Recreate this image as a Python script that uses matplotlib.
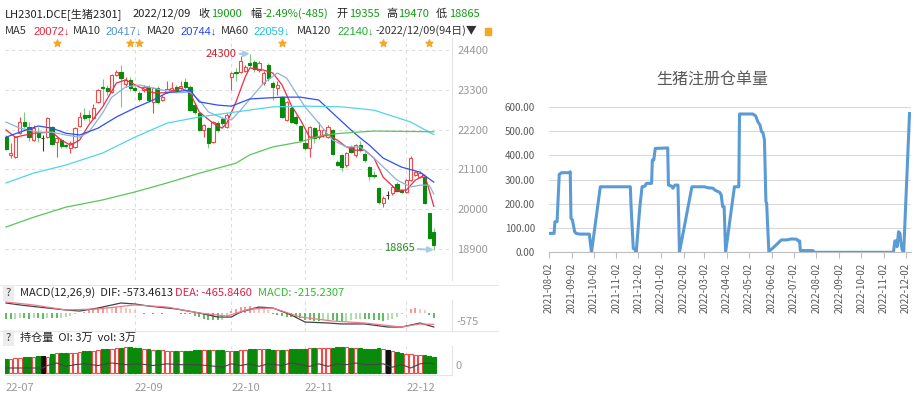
import matplotlib
matplotlib.use('Agg')
import matplotlib.pyplot as plt
import matplotlib.dates as mdates
import pandas as pd

plt.rcParams['font.family'] = ['Noto Sans CJK SC', 'DejaVu Sans']

# ---------------- data: LH2301 daily candles (94 days) ----------------
opens = [22000, 21500, 21440, 22110, 22410, 22270, 21910, 22130, 21960, 21990,
         22270, 21860, 21910, 21770, 21690, 21720, 22300, 22610, 22600, 22520,
         22970, 23380, 23350, 23240, 23710, 23800, 23460, 23580, 23350, 23210,
         23300, 23380, 22970, 23350, 23020, 23240, 23300, 23380, 23350, 23520,
         23380, 22880, 22660, 22190, 22240, 21850, 22380, 22490, 22270, 23650,
         23800, 23800, 23830, 24050, 24080, 23850, 23490, 23990, 23490, 23350,
         23100, 22470, 22800, 22550, 22300, 21830, 21690, 22240, 21990, 22050,
         21990, 22190, 21300, 21490, 21220, 21720, 21500, 21770, 21520, 21160,
         20930, 20580, 20160, 20380, 20430, 20690, 20530, 20470, 20800, 20950,
         20880, 20880, 19880, 19355]
highs = [22060, 21830, 22020, 22550, 22690, 22410, 22330, 22270, 22050, 22550,
         22300, 22000, 21960, 21800, 21880, 22270, 22680, 22800, 22750, 22910,
         23330, 23600, 23440, 23740, 23850, 23990, 23660, 23660, 23420, 23260,
         23440, 23440, 23380, 23410, 23160, 23550, 23520, 23440, 23550, 23640,
         23440, 22940, 22690, 22360, 22270, 22440, 22440, 22550, 22660, 23800,
         23900, 24250, 24000, 24300, 24130, 24110, 23830, 24050, 23550, 23550,
         23130, 23000, 22850, 22600, 22330, 22160, 22300, 22280, 22410, 22230,
         22330, 22220, 21350, 21520, 21580, 21770, 21800, 21880, 21580, 21190,
         21050, 20610, 20360, 20490, 20660, 20740, 20560, 20830, 21470, 21060,
         21050, 20900, 19900, 19470]
lows = [21630, 21410, 21400, 22080, 22250, 21880, 21880, 21850, 21600, 21960,
        21770, 21440, 21700, 21690, 21550, 21690, 22270, 22470, 22420, 22490,
        22940, 22880, 23160, 23210, 23690, 22820, 23390, 23270, 23240, 22990,
        23250, 22960, 22660, 22900, 22990, 23210, 23270, 23240, 23320, 23330,
        22710, 22630, 22160, 21990, 21680, 21820, 22130, 22300, 22240, 23300,
        23550, 23770, 23800, 23940, 23800, 23800, 23440, 23550, 23020, 23160,
        22520, 22440, 22380, 22330, 21850, 21630, 21440, 21830, 21940, 22000,
        21960, 21490, 21190, 21050, 21160, 21550, 21440, 21580, 21300, 20800,
        20850, 20130, 20050, 20280, 20380, 20460, 20440, 20440, 20770, 20920,
        20850, 20130, 19160, 18865]
closes = [21660, 21540, 21990, 22410, 22300, 21990, 22240, 21990, 21960, 22520,
          21800, 21960, 21740, 21740, 21830, 22240, 22560, 22530, 22560, 22800,
          23300, 23350, 23270, 23710, 23800, 23630, 23580, 23350, 23300, 23050,
          23380, 23020, 23350, 22970, 23100, 23320, 23350, 23300, 23410, 23380,
          22740, 22690, 22190, 22330, 21820, 22410, 22190, 22380, 22600, 23770,
          23770, 24100, 23940, 23990, 23880, 24050, 23770, 23630, 23380, 23440,
          22550, 22960, 22410, 22380, 21910, 21690, 22270, 21960, 22190, 22190,
          22270, 21520, 21220, 21160, 21550, 21580, 21770, 21630, 21360, 20910,
          20900, 20190, 20300, 20380, 20600, 20490, 20470, 20800, 21410, 21030,
          21000, 20160, 19190, 19000]

# moving averages (candle index, price)
ma5_idx = [0, 2, 6, 10, 12, 14, 16, 18, 21, 24, 26, 29, 32, 35, 38, 40, 42, 45, 47, 48,
           50, 52, 53, 56, 58, 60, 62, 64, 66, 68, 70, 72, 74, 76, 78, 80, 82, 85, 87, 89,
           91, 92, 93]
ma5_val = [22190, 21990, 22100, 22130, 21910, 21770, 21910, 22330, 22830, 23490, 23580,
           23380, 23220, 23220, 23350, 23220, 22690, 22380, 22240, 22380, 22970, 23660,
           23910, 23850, 23770, 23440, 22880, 22470, 21990, 21990, 22050, 21910, 21720,
           21630, 21630, 21410, 20880, 20520, 20520, 20800, 20940, 20520, 20072]
ma10_idx = [0, 3, 7, 10, 13, 16, 18, 21, 23, 26, 29, 32, 37, 40, 42, 44, 47, 49, 51, 56,
            59, 61, 65, 68, 71, 74, 77, 80, 85, 88, 90, 92, 93]
ma10_val = [22410, 22240, 22130, 22130, 22050, 21990, 22130, 22660, 23100, 23380, 23440,
            23350, 23220, 23240, 23020, 22690, 22520, 22470, 22740, 23490, 23770, 23630,
            22830, 22380, 21910, 21720, 21720, 21410, 20800, 20610, 20660, 20660, 20417]
ma20_idx = [0, 3, 7, 10, 13, 16, 20, 24, 28, 32, 35, 40, 42, 46, 49, 53, 60, 64, 68, 71,
            75, 77, 79, 82, 86, 90, 93]
ma20_val = [21990, 22130, 22300, 22240, 22100, 22050, 22240, 22550, 22800, 23020, 23220,
            23300, 22970, 22880, 22850, 23050, 23100, 23100, 23020, 22660, 22190, 21970,
            21770, 21410, 21160, 21020, 20744]
ma60_idx = [0, 6, 13, 21, 28, 35, 42, 50, 58, 66, 73, 80, 88, 93]
ma60_val = [20720, 20995, 21217, 21550, 21990, 22380, 22550, 22690, 22830, 22850, 22830,
            22740, 22410, 22059]
ma120_idx = [0, 6, 13, 21, 28, 35, 42, 50, 53, 58, 64, 69, 73, 80, 93]
ma120_val = [19500, 19770, 20050, 20250, 20470, 20720, 20990, 21270, 21500, 21720, 21860,
             22050, 22100, 22160, 22140]

# MACD(12,26,9)
macd_hist = [-230, -240, -230, -210, -220, -230, -220, -220, -230, -200,
             -210, -220, -200, -160, -110, -60, -20, 60, 120, 180,
             220, 250, 240, 230, 250, 240, 200, 170, 120, -20,
             -30, -20, -30, -20, -30, -20, -10, -20, -30, -40,
             -60, -120, -180, -240, -280, -300, -300, -280, -200, 80,
             180, 240, 260, 270, 260, 240, 200, 120, -60, -100,
             -140, -160, -180, -200, -220, -280, -300, -320, -320, -300,
             -280, -300, -320, -340, -320, -300, -260, -240, -240, -260,
             -280, -300, -320, -300, -240, -160, -60, -20, 150, 200,
             180, 120, -100, -215]
dif_idx = [0, 3, 7, 13, 16, 20, 25, 28, 31, 37, 42, 46, 49, 51, 55, 58, 62, 65, 70, 73,
           78, 83, 86, 90, 93]
dif_val = [410, 330, 245, 125, 80, 205, 410, 370, 285, 165, 0, -165, -165, 40, 245, 205,
           -80, -370, -410, -450, -450, -575, -575, -410, -573]
dea_idx = [0, 6, 13, 20, 28, 35, 42, 48, 53, 58, 64, 71, 78, 86, 90, 93]
dea_val = [450, 330, 125, 165, 330, 245, 0, -125, 165, 205, -165, -330, -410, -575, -450, -466]

# volume (千手) and open interest line
vol = [17, 17, 18, 18, 19, 19, 19, 20, 20, 19, 23, 24, 24, 24, 24, 24, 25, 26, 26, 26,
       28, 29, 29, 29, 30, 30, 31, 31, 30, 30, 29, 29, 28, 28, 28, 26, 26, 26, 26, 26,
       26, 28, 28, 28, 28, 28, 28, 28, 26, 26, 26, 28, 28, 29, 29, 29, 29, 29, 28, 28,
       28, 28, 29, 29, 29, 29, 30, 30, 30, 30, 30, 30, 31, 31, 31, 30, 30, 30, 29, 29,
       29, 30, 29, 28, 26, 25, 24, 23, 23, 22, 22, 22, 20, 19]
oi_idx = [0, 8, 9, 11, 13, 15, 17, 20, 23, 26, 29, 32, 35, 38, 41, 44, 47, 49, 51, 53,
          55, 57, 60, 62, 64, 66, 68, 70, 72, 74, 76, 78, 80, 82, 84, 86, 88, 90, 92, 93]
oi_val = [6, 6, 9, 12, 8, 10, 11, 9, 12, 10, 11, 9, 11, 10, 10, 9, 7, 11, 9, 11,
          8, 11, 9, 12, 10, 8, 11, 8, 11, 10, 12, 10, 10, 11, 7, 10, 6, 11, 12, 11]

star_idx = [11, 27, 29, 60, 82, 92]
month_idx = [0, 28, 49, 65, 87]
month_labels = ['22-07', '22-09', '22-10', '22-11', '22-12']
price_ticks = [18900, 20000, 21100, 22200, 23300, 24400]

# ---------------- data: 生猪注册仓单量 ----------------
wr_dates = ['2021-08-02', '2021-08-09', '2021-08-10', '2021-08-13', '2021-08-16', '2021-08-19',
            '2021-08-30', '2021-08-31', '2021-09-01', '2021-09-03', '2021-09-06', '2021-09-08',
            '2021-09-13', '2021-09-26', '2021-09-29', '2021-10-11', '2021-11-21', '2021-11-22',
            '2021-11-25', '2021-11-27', '2021-11-29', '2021-12-04', '2021-12-07', '2021-12-11',
            '2021-12-13', '2021-12-20', '2021-12-21', '2021-12-23', '2021-12-25', '2022-01-11',
            '2022-01-12', '2022-01-16', '2022-01-18', '2022-01-21', '2022-01-25', '2022-01-27',
            '2022-02-13', '2022-03-02', '2022-03-07', '2022-03-14', '2022-03-16', '2022-03-23',
            '2022-03-25', '2022-03-27', '2022-03-29', '2022-03-31', '2022-04-12', '2022-04-18',
            '2022-04-19', '2022-05-07', '2022-05-11', '2022-05-14', '2022-05-17', '2022-05-19',
            '2022-05-21', '2022-05-23', '2022-05-25', '2022-05-26', '2022-05-29', '2022-06-04',
            '2022-06-15', '2022-06-22', '2022-06-29', '2022-07-06', '2022-07-08', '2022-07-10',
            '2022-07-11', '2022-07-28', '2022-07-30', '2022-11-15', '2022-11-17', '2022-11-19',
            '2022-11-20', '2022-11-22', '2022-11-24', '2022-11-25', '2022-11-27', '2022-11-29',
            '2022-12-07']
wr_vals = [78, 78, 126, 126, 321, 328, 328, 332, 140, 133, 85, 78,
           75, 75, 0, 270, 270, 188, 16, 12, 0, 188, 270, 273,
           284, 284, 380, 380, 428, 430, 277, 273, 264, 277, 277, 0,
           270, 270, 266, 264, 257, 247, 236, 188, 188, 0, 270, 270,
           570, 570, 562, 538, 524, 497, 493, 463, 209, 202, 3, 19,
           51, 51, 55, 54, 47, 47, 7, 7, 0, 0, 47, 47,
           23, 85, 78, 44, 10, 0, 572]

W, H = 918, 396
fig = plt.figure(figsize=(W / 100, H / 100), dpi=100)
fig.patch.set_facecolor('white')


def px_axes(l, t, r, b):
    return fig.add_axes([l / W, 1 - b / H, (r - l) / W, (b - t) / H])


def put(x, y, s, color='#222222', size=8, **kw):
    fig.text(x / W, 1 - y / H, s, color=color, fontsize=size, va='center', ha='left', **kw)


GREEN = '#0a8a0a'
RED = '#f04a4a'
GRID = '#dddddd'
n = len(closes)
idx = list(range(n))

# ---------------- header ----------------
up_green = '#139c13'
put(5, 14, 'LH2301.DCE[生猪2301]')
put(133, 14, '2022/12/09')
put(198, 14, '收')
put(211, 14, f'{closes[-1]}', up_green)
put(250, 14, '幅')
put(262, 14, '-2.49%(-485)', up_green)
put(336, 14, '开')
put(349, 14, f'{opens[-1]}', up_green)
put(386, 14, '高')
put(398, 14, f'{highs[-1]}', up_green)
put(436, 14, '低')
put(449, 14, f'{lows[-1]}', up_green)

ma_specs = [('MA5', ma5_idx, ma5_val, '#ee2c44', 5, 33),
            ('MA10', ma10_idx, ma10_val, '#8db2da', 73, 105),
            ('MA20', ma20_idx, ma20_val, '#2f4ff0', 147, 180),
            ('MA60', ma60_idx, ma60_val, '#4fd6e6', 221, 253),
            ('MA120', ma120_idx, ma120_val, '#5cc45c', 297, 337)]
ma_text_col = {'MA5': '#e8243a', 'MA10': '#4a8fd0', 'MA20': '#2040ff',
               'MA60': '#1cc0e0', 'MA120': '#22aa33'}
for name, mi, mv, col, xn, xv in ma_specs:
    put(xn, 31, name, '#333333')
    put(xv, 31, f'{mv[-1]}↓', ma_text_col[name], family=['Liberation Sans', 'DejaVu Sans'])
put(375, 31, '-2022/12/09(94日)▼', '#333333', 7.8)
fig.patches.append(plt.Rectangle((485 / W, 1 - 35 / H), 6 / W, 7 / H, transform=fig.transFigure,
                                 color='#f5a623'))

# ---------------- price panel ----------------
ax = px_axes(5, 38, 452, 280)
ax.set_xlim(-0.22, 96.96)
ax.set_ylim(18030, 24740)
for i in idx:
    o, h, l, c = opens[i], highs[i], lows[i], closes[i]
    if c > o:
        edge, face, wick = RED, 'white', RED
    elif c < o:
        edge, face, wick = GREEN, GREEN, '#7cc87c'
    else:
        edge, face, wick = '#333333', '#333333', '#333333'
    ax.vlines(i, l, h, color=wick, lw=0.8, zorder=2)
    ax.bar(i, max(abs(c - o), 12), bottom=min(o, c), width=0.66, color=face,
           edgecolor=edge, linewidth=0.8, zorder=3)
for name, mi, mv, col, xn, xv in ma_specs:
    ax.plot(mi, mv, color=col, lw=0.9, zorder=4)
ax.set_yticks(price_ticks)
ax.yaxis.tick_right()
ax.tick_params(axis='y', length=0, pad=4, labelsize=8, labelcolor='#999999')
ax.set_xticks([])
ax.grid(axis='y', color=GRID, ls=(0, (3, 3)), lw=0.8)
for m in month_idx[1:]:
    ax.axvline(m, color=GRID, ls=(0, (3, 3)), lw=0.8, zorder=0)
for s in ['top', 'left', 'bottom']:
    ax.spines[s].set_visible(False)
ax.spines['right'].set_color('#e4e4e4')
ax.scatter(star_idx, [0.978] * len(star_idx), marker='*', s=28, color='#f5a623',
           transform=ax.get_xaxis_transform(), clip_on=False, zorder=5)
ax.annotate(f'{max(highs)}', xy=(53, max(highs)), xytext=(50.2, max(highs)),
            color='#d42030', fontsize=8, ha='right', va='center',
            arrowprops=dict(arrowstyle='-|>', color='#a8cbe6', lw=1.5, shrinkA=0, shrinkB=0))
ax.annotate(f'{min(lows)}', xy=(93, min(lows)), xytext=(88.9, 18914),
            color='#2a8a2a', fontsize=8, ha='right', va='center',
            arrowprops=dict(arrowstyle='-|>', color='#a8cbe6', lw=1.5, shrinkA=0, shrinkB=0))

# ---------------- MACD panel ----------------
put(6, 293, '?', '#444444', 8, bbox=dict(boxstyle='square,pad=0.25', fc='#ececec', ec='none'))
put(20, 293, 'MACD(12,26,9)  DIF: -573.4613')
put(175, 293, 'DEA: -465.8460', '#e0204a')
put(258, 293, 'MACD: -215.2307', '#33bb33')
axm = px_axes(5, 300, 452, 331)
axm.set_xlim(-0.22, 96.96)
axm.set_ylim(-738, 533)
for i in idx:
    v = macd_hist[i]
    prev = macd_hist[i - 1] if i > 0 else v
    if v >= 0:
        col = '#f07a7a' if v >= prev else '#f5b0b0'
    else:
        col = '#33aa33' if v <= prev else '#9ad49a'
    axm.vlines(i, 0, v, color=col, lw=1.1)
axm.plot(dif_idx, dif_val, color='#444444', lw=0.9)
axm.plot(dea_idx, dea_val, color='#f07a8a', lw=0.9)
for m in month_idx[1:]:
    axm.axvline(m, color=GRID, ls=(0, (3, 3)), lw=0.8, zorder=0)
axm.set_xticks([])
axm.set_yticks([])
for s in ['top', 'left', 'bottom']:
    axm.spines[s].set_visible(False)
axm.spines['right'].set_color('#e4e4e4')
put(456, 322, '-575', '#999999', 8)

# ---------------- OI / volume panel ----------------
put(6, 338, '?', '#444444', 8, bbox=dict(boxstyle='square,pad=0.25', fc='#ececec', ec='none'))
put(20, 338, '持仓量  OI: 3万  vol: 3万')
axv = px_axes(5, 346, 452, 375)
axv.set_xlim(-0.22, 96.96)
axv.set_ylim(-2.4, 32.4)
for i in idx:
    if closes[i] > opens[i]:
        face, edge = 'white', RED
    elif closes[i] < opens[i]:
        face, edge = '#0a8a0a', '#0a8a0a'
    else:
        face, edge = '#111111', '#111111'
    axv.bar(i, vol[i], width=0.76, color=face, edgecolor=edge, linewidth=0.8)
axv.plot(oi_idx, oi_val, color='#444444', lw=0.8)
for m in month_idx[1:]:
    axv.axvline(m, color=GRID, ls=(0, (3, 3)), lw=0.8, zorder=0)
axv.set_yticks([])
axv.set_xticks(month_idx)
axv.set_xticklabels(month_labels, ha='left')
axv.tick_params(axis='x', length=0, pad=6, labelsize=8, labelcolor='#999999')
for s in ['top', 'left']:
    axv.spines[s].set_visible(False)
axv.spines['right'].set_color('#e4e4e4')
axv.spines['bottom'].set_color('#e4e4e4')
put(456, 366, '0', '#999999', 8)

for yy in [285, 331]:
    fig.add_artist(plt.Line2D([0, 498 / W], [1 - yy / H] * 2, color='#e6e6e6', lw=0.8))

# ---------------- right chart: 生猪注册仓单量 ----------------
fig.text(712 / W, 1 - 80 / H, '生猪注册仓单量', fontsize=11.5, color='#595959',
         ha='center', va='center')
axr = px_axes(549, 106.7, 911, 252.3)
axr.plot(pd.to_datetime(wr_dates), wr_vals, color='#5b9bd5', lw=2.2, solid_joinstyle='round')
axr.set_ylim(0, 600)
axr.set_xlim(pd.Timestamp('2021-08-02'), pd.Timestamp('2022-12-09'))
axr.set_yticks(range(0, 601, 100))
axr.set_yticklabels([f'{v:.2f}' for v in range(0, 601, 100)])
axr.yaxis.grid(True, color='#d9d9d9', lw=0.8)
axr.set_axisbelow(True)
month_ticks = pd.date_range('2021-08-01', '2022-12-01', freq='MS') + pd.Timedelta(days=1)
axr.set_xticks(month_ticks)
axr.xaxis.set_major_formatter(mdates.DateFormatter('%Y-%m-%d'))
axr.tick_params(axis='x', rotation=90, labelsize=7, labelcolor='#595959', length=4,
                color='#bfbfbf', direction='out')
axr.tick_params(axis='y', length=0, labelsize=7, labelcolor='#595959', pad=10)
for s in ['top', 'left', 'right']:
    axr.spines[s].set_visible(False)
axr.spines['bottom'].set_color('#bfbfbf')

fig.savefig('out.png', dpi=100)
